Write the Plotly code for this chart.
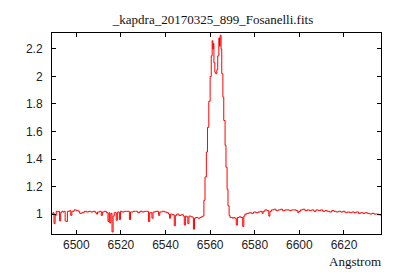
import plotly.graph_objects as go

wavelength = [
    6489.0, 6489.5, 6490.0, 6490.5, 6491.0, 6491.5, 6492.0, 6492.5, 6493.0, 6493.5,
    6494.0, 6494.5, 6495.0, 6495.5, 6496.0, 6497.0, 6497.5, 6498.0, 6499.0, 6500.0,
    6501.0, 6501.5, 6502.5, 6503.5, 6504.5, 6505.5, 6506.5, 6507.5, 6508.5, 6509.0,
    6509.5, 6510.5, 6511.2, 6511.7, 6512.5, 6513.5, 6514.2, 6514.7, 6515.0, 6515.5,
    6516.0, 6516.5, 6517.0, 6517.9, 6518.4, 6519.3, 6519.8, 6520.5, 6521.5, 6522.5,
    6523.8, 6524.3, 6525.5, 6526.5, 6527.5, 6528.5, 6529.5, 6530.5, 6531.5, 6532.4,
    6532.9, 6533.9, 6534.4, 6535.5, 6536.9, 6537.4, 6538.5, 6539.5, 6540.5, 6541.3,
    6541.8, 6542.3, 6543.0, 6543.9, 6544.4, 6545.0, 6546.0, 6547.0, 6548.0, 6548.4,
    6548.9, 6549.5, 6550.0, 6550.5, 6551.5, 6552.2, 6552.5, 6553.0, 6553.5, 6554.5,
    6555.5, 6556.0, 6556.6, 6557.2, 6557.7, 6558.3, 6558.8, 6559.4, 6560.0, 6560.5,
    6560.9, 6561.2, 6561.4, 6561.7, 6562.1, 6562.5, 6563.0, 6563.4, 6563.9, 6564.2,
    6564.5, 6564.9, 6565.2, 6565.7, 6566.1, 6566.7, 6567.1, 6567.6, 6568.0, 6568.5,
    6568.9, 6569.5, 6570.0, 6570.5, 6571.0, 6571.7, 6572.2, 6573.0, 6573.8, 6574.6,
    6575.1, 6575.6, 6576.5, 6577.5, 6578.5, 6579.5, 6580.5, 6581.5, 6582.5, 6583.3,
    6583.8, 6584.5, 6585.5, 6586.3, 6586.8, 6587.5, 6588.5, 6589.5, 6590.5, 6591.5,
    6592.5, 6593.5, 6594.5, 6595.5, 6596.5, 6597.5, 6598.5, 6599.3, 6599.8, 6600.5,
    6601.5, 6602.5, 6603.5, 6604.5, 6605.5, 6606.5, 6607.5, 6608.5, 6609.5, 6610.5,
    6611.5, 6612.5, 6613.5, 6614.5, 6615.5, 6616.5, 6617.5, 6618.5, 6619.5, 6620.5,
    6621.5, 6622.5, 6623.5, 6624.5, 6625.5, 6626.5, 6627.5, 6628.5, 6629.5, 6630.5,
    6631.5, 6632.5, 6633.5, 6634.5, 6635.5, 6636.5, 6637.0,
]

flux = [
    1.000, 1.010, 0.930, 0.990, 1.020, 1.015, 1.020, 0.950, 1.010, 1.020,
    1.015, 1.020, 0.950, 0.945, 1.020, 1.025, 0.990, 1.020, 1.030, 1.025,
    1.020, 1.005, 1.010, 1.020, 1.015, 1.020, 1.015, 1.020, 1.010, 1.000,
    1.015, 1.020, 0.990, 1.015, 1.020, 1.010, 0.945, 1.010, 0.935, 1.005,
    0.870, 0.985, 1.010, 0.955, 1.015, 0.960, 1.020, 1.015, 1.020, 1.020,
    0.960, 1.015, 1.020, 1.020, 1.010, 1.020, 1.015, 1.020, 1.020, 0.945,
    1.010, 0.970, 1.015, 1.020, 0.990, 1.015, 1.020, 1.015, 1.010, 1.000,
    0.970, 1.000, 0.995, 0.915, 0.990, 1.000, 0.990, 0.995, 0.985, 0.920,
    0.985, 0.980, 0.930, 0.985, 0.980, 0.975, 0.890, 0.970, 0.975, 0.970,
    0.975, 0.980, 0.985, 1.100, 1.270, 1.450, 1.630, 1.820, 2.000, 2.150,
    2.260, 2.200, 2.240, 2.100, 2.030, 2.020, 2.050, 2.150, 2.280, 2.220,
    2.300, 2.200, 2.020, 1.850, 1.680, 1.500, 1.340, 1.180, 1.060, 0.990,
    0.975, 0.975, 0.970, 0.975, 0.970, 0.920, 0.975, 0.980, 0.975, 0.910,
    0.985, 1.000, 1.005, 1.010, 1.005, 1.015, 1.010, 1.015, 1.020, 1.005,
    1.020, 1.030, 1.025, 0.985, 1.020, 1.030, 1.035, 1.025, 1.030, 1.035,
    1.025, 1.030, 1.030, 1.025, 1.030, 1.030, 1.025, 1.010, 1.020, 1.030,
    1.035, 1.025, 1.030, 1.025, 1.030, 1.020, 1.030, 1.025, 1.030, 1.020,
    1.025, 1.020, 1.015, 1.025, 1.020, 1.015, 1.020, 1.015, 1.020, 1.010,
    1.015, 1.010, 1.015, 1.010, 1.015, 1.005, 1.010, 1.005, 1.010, 1.005,
    1.000, 1.005, 1.000, 1.000, 0.995, 0.990, 0.985,
]

x_tick_values = [6500, 6520, 6540, 6560, 6580, 6600, 6620]
y_tick_values = [1, 1.2, 1.4, 1.6, 1.8, 2, 2.2]
y_tick_labels = ["1", "1.2", "1.4", "1.6", "1.8", "2", "2.2"]

title_text = "_kapdra_20170325_899_Fosanelli.fits"
x_label = "Angstrom"

fig = go.Figure()
fig.add_trace(go.Scatter(
    x=wavelength, y=flux, mode="lines",
    line=dict(color="#ff0000", width=1, shape="hv"),
    showlegend=False, hoverinfo="skip",
))

axis_common = dict(
    showline=True, linecolor="black", linewidth=1, mirror="ticks",
    ticks="inside", ticklen=4, tickwidth=1, tickcolor="black",
    showgrid=False, zeroline=False,
    tickfont=dict(family="Liberation Sans", size=12, color="#222"),
)

fig.update_layout(
    width=400, height=280,
    margin=dict(l=52, r=19, t=33, b=46),
    paper_bgcolor="white", plot_bgcolor="white",
    title=dict(
        text=title_text, x=213 / 400, xanchor="center",
        y=1 - 19 / 280, yanchor="middle", yref="container",
        font=dict(family="Liberation Serif", size=13, color="#111"),
    ),
    xaxis=dict(range=[6489.1, 6636.6], tickvals=x_tick_values, **axis_common),
    yaxis=dict(range=[0.855, 2.316], tickvals=y_tick_values,
               ticktext=y_tick_labels, ticklabelstandoff=6, **axis_common),
    annotations=[dict(
        text=x_label, xref="paper", yref="paper", x=1, y=0,
        xanchor="right", yanchor="middle", xshift=2, yshift=-27,
        showarrow=False,
        font=dict(family="Liberation Serif", size=13, color="#111"),
    )],
)

fig.write_html("out.html")
